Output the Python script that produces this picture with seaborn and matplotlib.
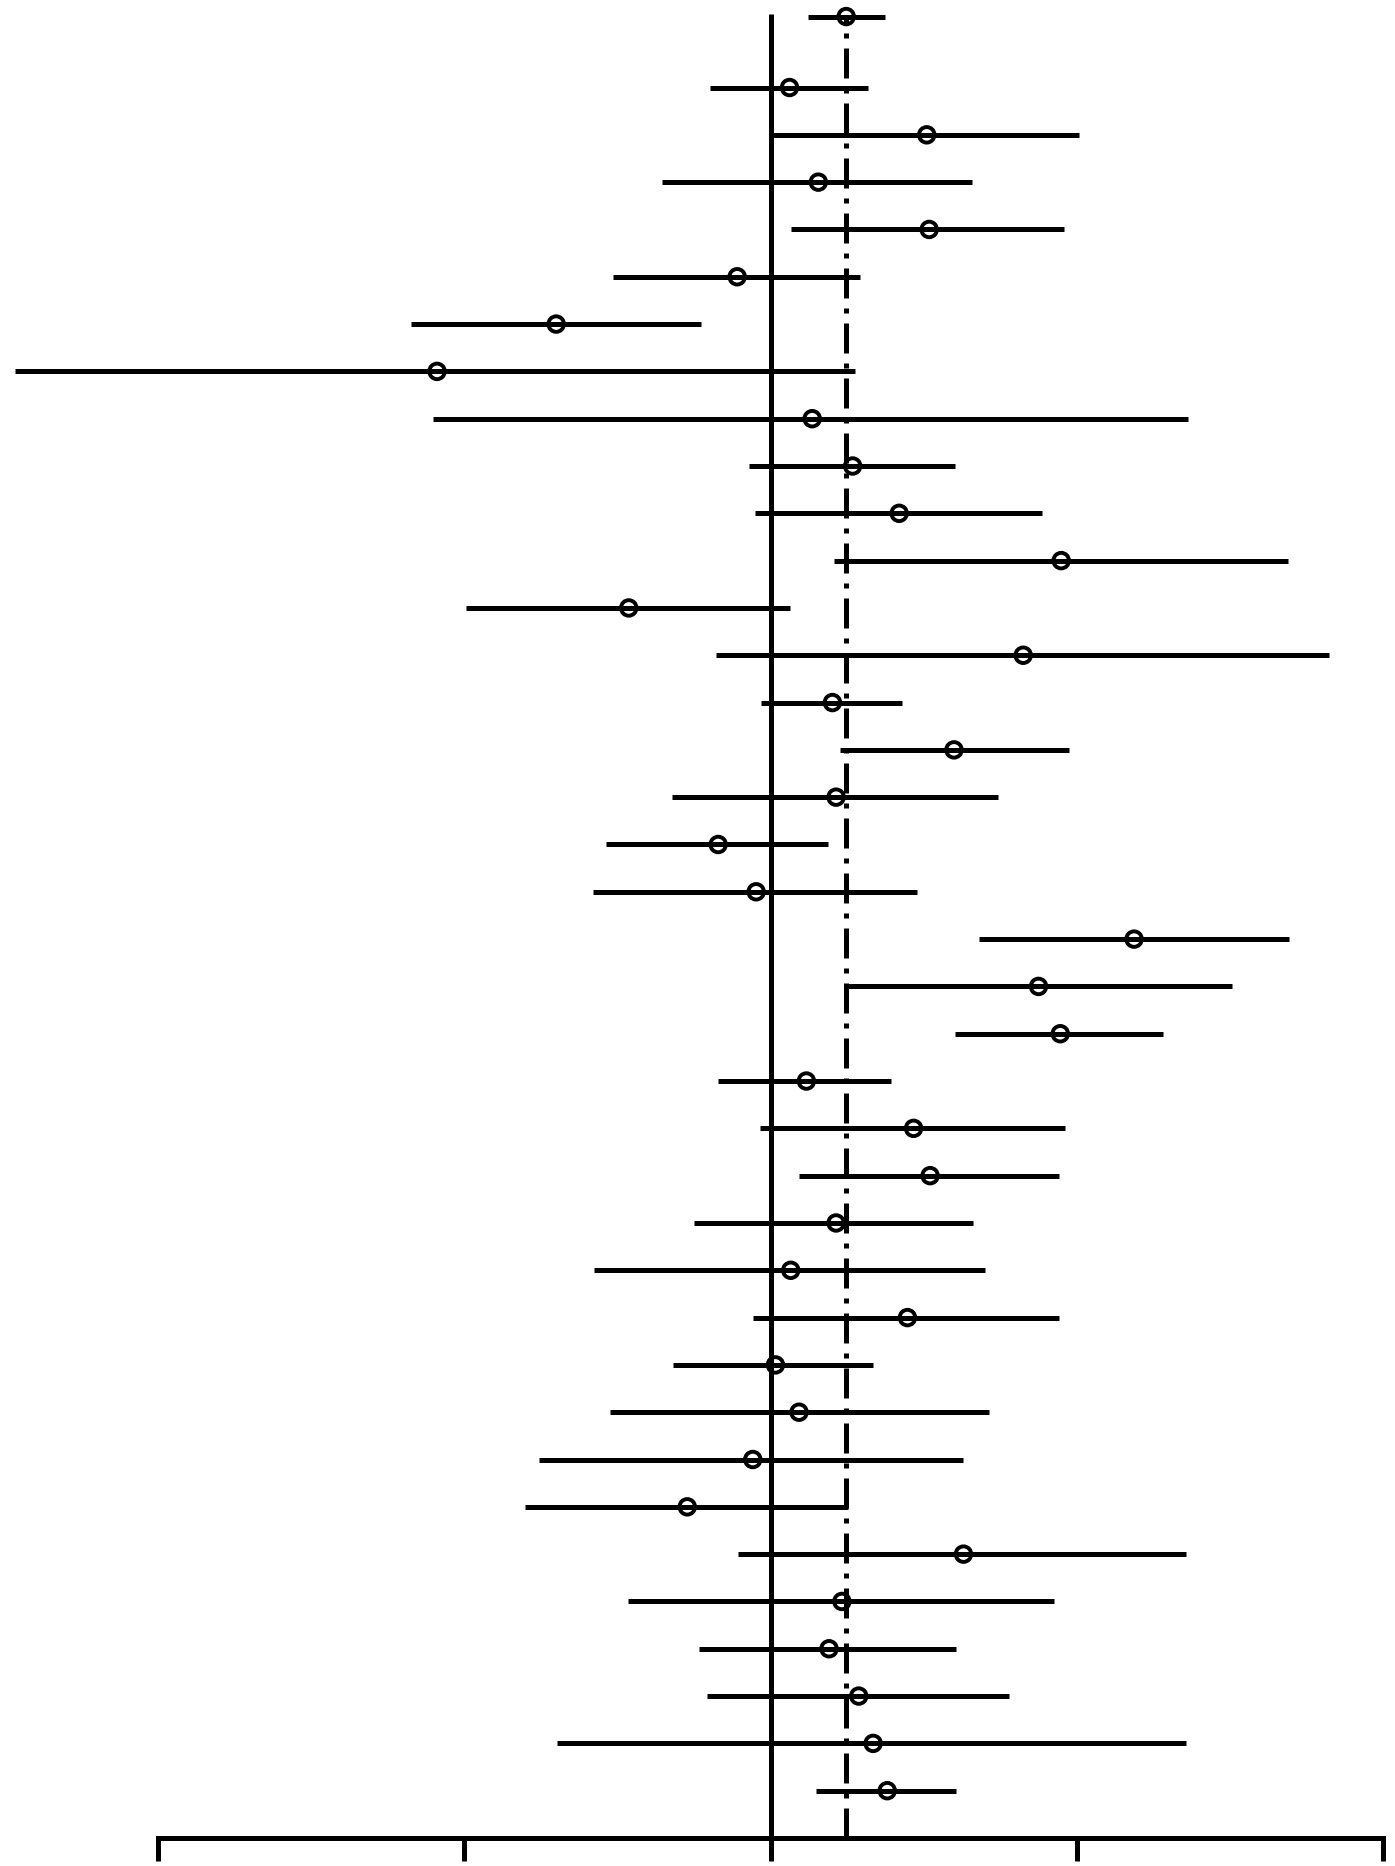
import pandas as pd
import matplotlib
matplotlib.use("Agg")
import matplotlib.pyplot as plt
import seaborn as sns

# Pooled (summary) estimate drawn at the top
summary_est = 0.247
summary_lo = 0.122
summary_hi = 0.374

# Individual study estimates with 95% CI (top to bottom)
study_est = [0.062, 0.510, 0.156, 0.518, -0.109, -0.700, -1.089, 0.136, 0.268, 0.420,
             0.949, -0.463, 0.825, 0.202, 0.599, 0.214, -0.171, -0.047, 1.187, 0.875,
             0.946, 0.117, 0.467, 0.521, 0.214, 0.066, 0.447, 0.016, 0.093, -0.058,
             -0.272, 0.630, 0.233, 0.191, 0.288, 0.335, 0.381]
study_lo = [-0.198, 0.004, -0.354, 0.066, -0.514, -1.175, -2.467, -1.101, -0.070, -0.051,
            0.206, -0.996, -0.179, -0.031, 0.226, -0.323, -0.537, -0.580, 0.681, 0.241,
            0.603, -0.171, -0.035, 0.093, -0.249, -0.576, -0.058, -0.319, -0.525, -0.755,
            -0.802, -0.105, -0.467, -0.233, -0.206, -0.697, 0.148]
study_hi = [0.319, 1.008, 0.658, 0.957, 0.292, -0.226, 0.276, 1.362, 0.603, 0.887,
            1.689, 0.062, 1.825, 0.428, 0.973, 0.743, 0.187, 0.479, 1.693, 1.506,
            1.280, 0.393, 0.961, 0.942, 0.661, 0.700, 0.942, 0.335, 0.712, 0.630,
            0.253, 1.358, 0.926, 0.607, 0.778, 1.358, 0.607]
x_ticks = [-2, -1, 0, 1, 2]

n = len(study_est)
df = pd.DataFrame({
    "row": [-0.5] + list(range(1, n + 1)),
    "est": [summary_est] + study_est,
    "lo": [summary_lo] + study_lo,
    "hi": [summary_hi] + study_hi,
})

sns.set_style("white")
fig = plt.figure(figsize=(13.95, 18.66), dpi=100)
ax = fig.add_axes([0, 28 / 1866, 1, 1838 / 1866])

lw = 3.6
# reference lines: null effect and pooled estimate
ax.vlines(0, n + 1, -0.55, color="black", lw=lw, zorder=1)
ax.vlines(summary_est, n + 1, -0.5, color="black", lw=lw,
          linestyles=[(0, (6, 2, 1, 2))], zorder=1)

# confidence intervals
ax.hlines(df["row"], df["lo"], df["hi"], color="black", lw=lw,
          capstyle="butt", zorder=2)

# point estimates
sns.scatterplot(data=df, x="est", y="row", ax=ax, marker="o", s=125,
                facecolor="none", edgecolor="black", linewidth=2.8, zorder=3,
                legend=False)

ax.set_xlim(-2.516, 2.039)
ax.set_ylim(n + 1, -0.85)
ax.set_xticks(x_ticks)
ax.set_xticklabels([])
ax.set_yticks([])
ax.set_xlabel("")
ax.set_ylabel("")
ax.tick_params(axis="x", direction="out", length=16.5, width=lw, bottom=True,
               color="black")
sns.despine(ax=ax, left=True, top=True, right=True)
ax.spines["bottom"].set_bounds(-2, 2)
ax.spines["bottom"].set_linewidth(lw)
ax.spines["bottom"].set_color("black")
ax.patch.set_alpha(0)

fig.savefig("out.png", dpi=100)
